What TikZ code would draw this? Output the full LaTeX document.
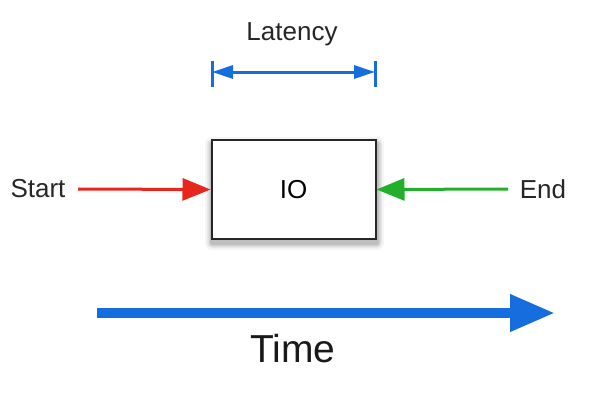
\documentclass[tikz,border=0pt]{standalone}
\usepackage{fontspec}
\setmainfont{Liberation Sans}
\usetikzlibrary{arrows.meta}
\definecolor{tblue}{RGB}{22,110,222}
\definecolor{tred}{RGB}{232,38,30}
\definecolor{tgreen}{RGB}{34,176,42}
\begin{document}
\begin{tikzpicture}[x=1pt,y=-1pt,
  lbl/.style={font=\fontsize{26}{30}\selectfont, text=black!85, inner sep=0pt},
  iobox/.style={draw=black!85, line width=2pt, fill=white, minimum width=164pt, minimum height=99pt, inner sep=0pt, font=\fontsize{26}{30}\selectfont},
  redarrow/.style={draw=tred, line width=3pt, -{Triangle[length=28pt,width=22pt]}},
  greenarrow/.style={draw=tgreen, line width=3pt, -{Triangle[length=28pt,width=22pt]}},
  latarrow/.style={draw=tblue, line width=3pt, {Triangle[length=21pt,width=13pt]}-{Triangle[length=21pt,width=13pt]}},
  latbar/.style={draw=tblue, line width=3pt},
  timearrow/.style={draw=tblue, line width=10pt, -{Triangle[length=45pt,width=35pt]}}
]
\useasboundingbox (0,0) rectangle (601,400);
% shadow of the box
\foreach \s/\o in {7/0.04,5/0.06,3.5/0.08,2/0.10}{
  \fill[black, opacity=\o, rounded corners=\s] (211-\s+1,140-\s+4) rectangle (376+\s+1,239+\s+4);
}
\node[iobox] (io) at (293.5,189.5) {IO};
% labels
\node[lbl] (start) at (38,189) {Start};
\node[lbl] (end) at (543,189) {End};
\node[lbl] (lat) at (292,34) {Latency};
\node[font=\fontsize{39}{44}\selectfont, text=black!90, inner sep=0pt] (time) at (293,349) {Time};
% coordinates
\coordinate (sa) at (78,189);
\coordinate (ea) at (508,189);
\coordinate (l1) at (212,72);
\coordinate (l2) at (375,72);
\coordinate (t1) at (97,313);
\coordinate (t2) at (555,313);
% connectors
\draw[redarrow] (sa) -- (io.west);
\draw[greenarrow] (ea) -- (io.east);
\draw[latarrow] (l1) -- (l2);
\draw[latbar] (l1) ++(0,-11) -- ++(0,26);
\draw[latbar] (l2) ++(0,-11) -- ++(0,26);
\draw[timearrow] (t1) -- (t2);
\end{tikzpicture}
\end{document}
